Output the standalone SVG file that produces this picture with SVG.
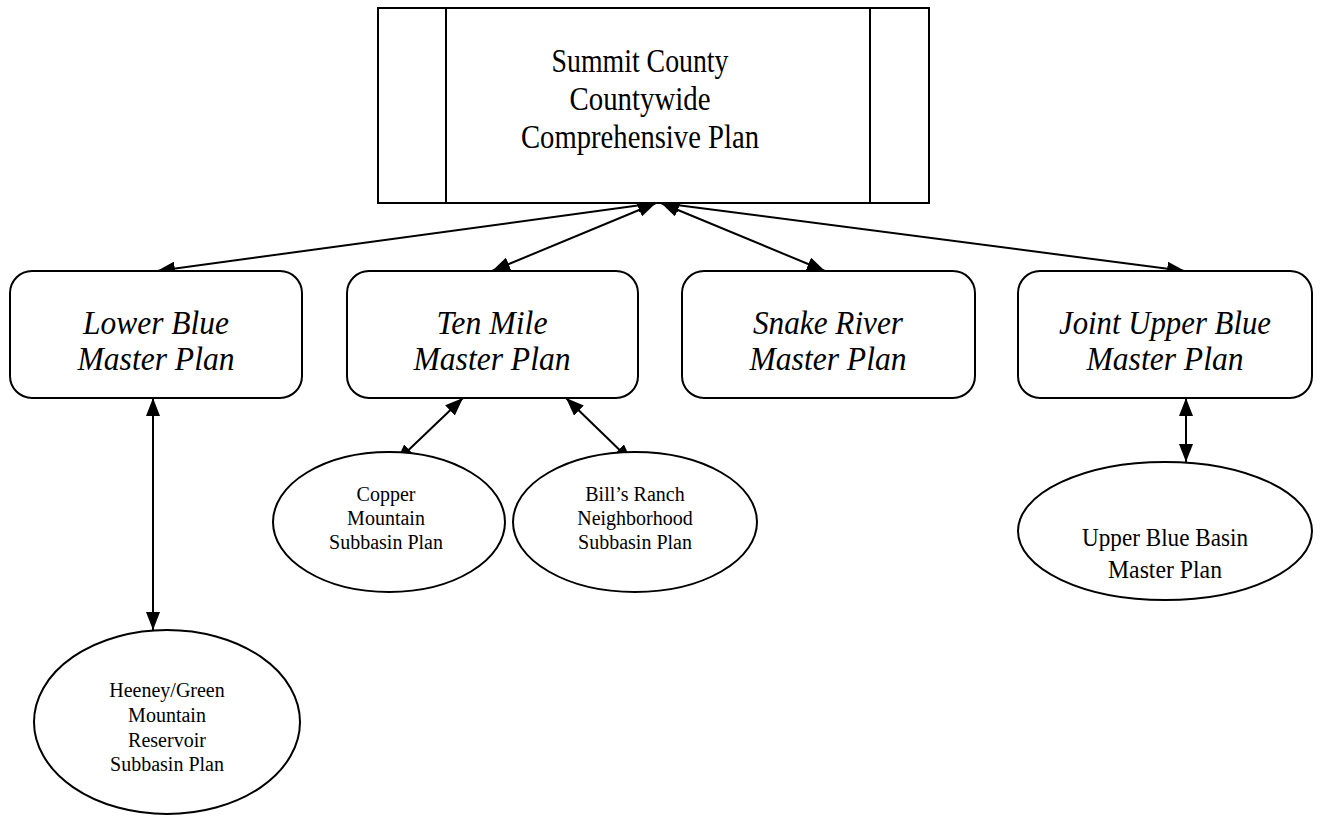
<svg xmlns="http://www.w3.org/2000/svg" width="1344" height="817" viewBox="0 0 1344 817">
<style>
.shape{fill:#fff;stroke:#000;stroke-width:2}
.t{font-family:"Liberation Serif","Times New Roman",serif;fill:#000;text-anchor:middle}
.big{font-size:34px}
.it{font-size:34px;font-style:italic}
.sm{font-size:20px}
.md{font-size:26px}
.c{stroke:#000;stroke-width:2;fill:none;marker-start:url(#ah);marker-end:url(#ah)}
</style>
<defs>
<marker id="ah" viewBox="0 0 18 14" refX="18" refY="7" markerWidth="18" markerHeight="14" orient="auto-start-reverse" markerUnits="userSpaceOnUse">
<path d="M0,0 L18,7 L0,14 Z" fill="#000"/>
</marker>
</defs>
<rect width="1344" height="817" fill="#fff"/>
<g id="connectors">
<line class="c" x1="656" y1="203" x2="157" y2="271"/>
<line class="c" x1="656" y1="203" x2="492" y2="271"/>
<line class="c" x1="661" y1="203" x2="825" y2="271"/>
<line class="c" x1="661" y1="203" x2="1185" y2="271"/>
<line class="c" x1="153" y1="398" x2="153" y2="630"/>
<line class="c" x1="463" y1="398" x2="396" y2="462"/>
<line class="c" x1="566" y1="398" x2="632" y2="462"/>
<line class="c" x1="1186" y1="398" x2="1186" y2="462"/>
</g>
<g id="summit">
<rect class="shape" x="378" y="8" width="551" height="195"/>
<line x1="446" y1="8" x2="446" y2="203" stroke="#000" stroke-width="2"/>
<line x1="870" y1="8" x2="870" y2="203" stroke="#000" stroke-width="2"/>
<text class="t big" x="640" y="72" textLength="177" lengthAdjust="spacingAndGlyphs">Summit County</text>
<text class="t big" x="640" y="110" textLength="141" lengthAdjust="spacingAndGlyphs">Countywide</text>
<text class="t big" x="640" y="148" textLength="238" lengthAdjust="spacingAndGlyphs">Comprehensive Plan</text>
</g>
<g id="lowerblue">
<rect class="shape" x="10" y="271" width="292" height="127" rx="22"/>
<text class="t it" x="156" y="334" textLength="146" lengthAdjust="spacingAndGlyphs">Lower Blue</text>
<text class="t it" x="156" y="370" textLength="157" lengthAdjust="spacingAndGlyphs">Master Plan</text>
</g>
<g id="tenmile">
<rect class="shape" x="347" y="271" width="291" height="127" rx="22"/>
<text class="t it" x="492" y="334" textLength="111" lengthAdjust="spacingAndGlyphs">Ten Mile</text>
<text class="t it" x="492" y="370" textLength="157" lengthAdjust="spacingAndGlyphs">Master Plan</text>
</g>
<g id="snakeriver">
<rect class="shape" x="682" y="271" width="293" height="127" rx="22"/>
<text class="t it" x="828" y="334" textLength="150" lengthAdjust="spacingAndGlyphs">Snake River</text>
<text class="t it" x="828" y="370" textLength="157" lengthAdjust="spacingAndGlyphs">Master Plan</text>
</g>
<g id="jointupperblue">
<rect class="shape" x="1018" y="271" width="294" height="127" rx="22"/>
<text class="t it" x="1165" y="334" textLength="212" lengthAdjust="spacingAndGlyphs">Joint Upper Blue</text>
<text class="t it" x="1165" y="370" textLength="157" lengthAdjust="spacingAndGlyphs">Master Plan</text>
</g>
<g id="copper">
<ellipse class="shape" cx="389" cy="522" rx="116" ry="70"/>
<text class="t sm" x="386" y="501">Copper</text>
<text class="t sm" x="386" y="525">Mountain</text>
<text class="t sm" x="386" y="549">Subbasin Plan</text>
</g>
<g id="billsranch">
<ellipse class="shape" cx="635" cy="522" rx="122" ry="70"/>
<text class="t sm" x="635" y="501">Bill’s Ranch</text>
<text class="t sm" x="635" y="525">Neighborhood</text>
<text class="t sm" x="635" y="549">Subbasin Plan</text>
</g>
<g id="upperbluebasin">
<ellipse class="shape" cx="1165" cy="531" rx="147" ry="69"/>
<text class="t md" x="1165" y="546" textLength="166" lengthAdjust="spacingAndGlyphs">Upper Blue Basin</text>
<text class="t md" x="1165" y="578" textLength="114" lengthAdjust="spacingAndGlyphs">Master Plan</text>
</g>
<g id="heeney">
<ellipse class="shape" cx="167" cy="722" rx="133" ry="92"/>
<text class="t sm" x="167" y="697">Heeney/Green</text>
<text class="t sm" x="167" y="722">Mountain</text>
<text class="t sm" x="167" y="747">Reservoir</text>
<text class="t sm" x="167" y="771">Subbasin Plan</text>
</g>
</svg>
